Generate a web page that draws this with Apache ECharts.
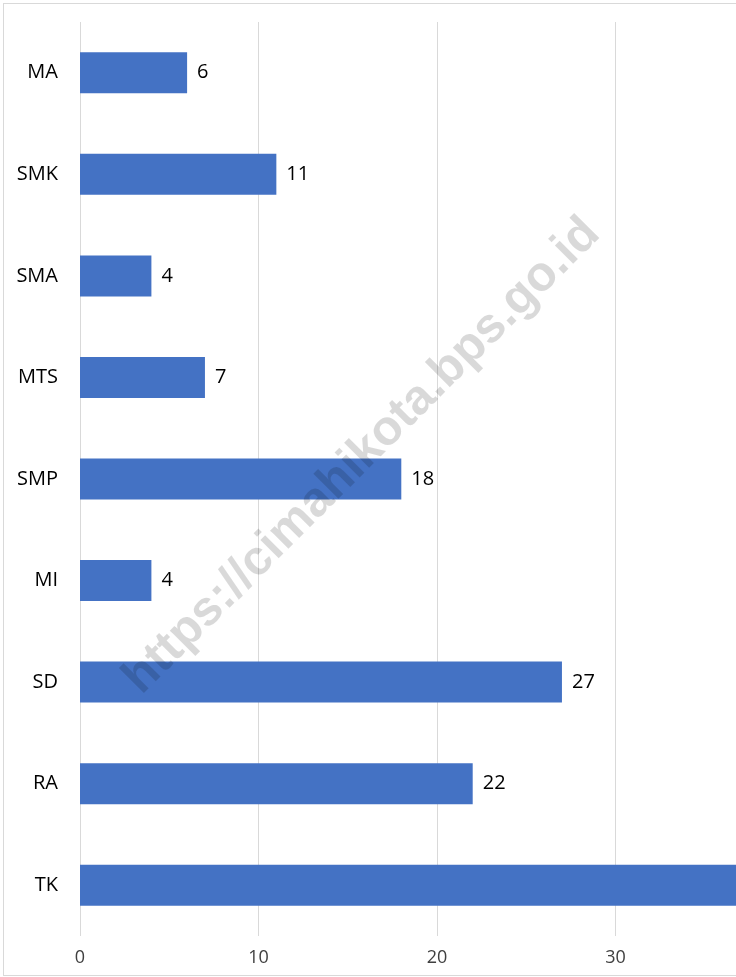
<!DOCTYPE html>
<html>
<head>
<meta charset="utf-8">
<title>Jumlah sekolah</title>
<script src="https://cdn.jsdelivr.net/npm/echarts@6/dist/echarts.min.js"></script>
<style>
  html, body { margin: 0; padding: 0; overflow: hidden; background: #fff; }
  #chart {
    position: absolute; left: 3px; top: 3px;
    width: 858px; height: 971px;
    border: 1px solid #d9d9d9;
  }
</style>
</head>
<body>
<div id="chart"></div>
<script>
// school levels, top to bottom
const categories = ['MA', 'SMK', 'SMA', 'MTS', 'SMP', 'MI', 'SD', 'RA', 'TK'];
const counts = [6, 11, 4, 7, 18, 4, 27, 22, 38]; // TK runs off the picture, estimated
const axisMax = 40;
const axisStep = 10;
const watermark = 'https://cimahikota.bps.go.id';

const font = '"Open Sans", "Liberation Sans", sans-serif';

const chart = echarts.init(document.getElementById('chart'), null, { renderer: 'canvas' });

chart.setOption({
  animation: false,
  backgroundColor: '#fff',
  grid: { left: 76, right: 68, top: 18, bottom: 39, containLabel: false },
  xAxis: {
    type: 'value',
    min: 0, max: axisMax, interval: axisStep,
    axisLine: { show: false },
    axisTick: { show: false },
    splitLine: { show: true, lineStyle: { color: '#d9d9d9', width: 1 } },
    axisLabel: { color: '#404040', fontSize: 18, fontFamily: font, margin: 13 }
  },
  yAxis: {
    type: 'category',
    data: categories,
    inverse: true,
    axisLine: { show: false },
    axisTick: { show: false },
    axisLabel: { color: '#000', fontSize: 20, fontFamily: font, margin: 22 }
  },
  // site watermark, laid over the plot
  graphic: [{
    type: 'text',
    x: 358, y: 452,
    rotation: Math.PI / 4,
    silent: true,
    z: 100,
    style: {
      text: watermark,
      fill: 'rgba(0, 0, 0, 0.15)',
      font: 'bold 49px "Liberation Sans", Arial, sans-serif',
      align: 'center',
      verticalAlign: 'middle'
    }
  }],
  series: [{
    type: 'bar',
    data: counts,
    barWidth: 41,
    itemStyle: { color: '#4472c4' },
    label: {
      show: true, position: 'right', distance: 10,
      color: '#000', fontSize: 20, fontFamily: font
    }
  }]
});
</script>
</body>
</html>
